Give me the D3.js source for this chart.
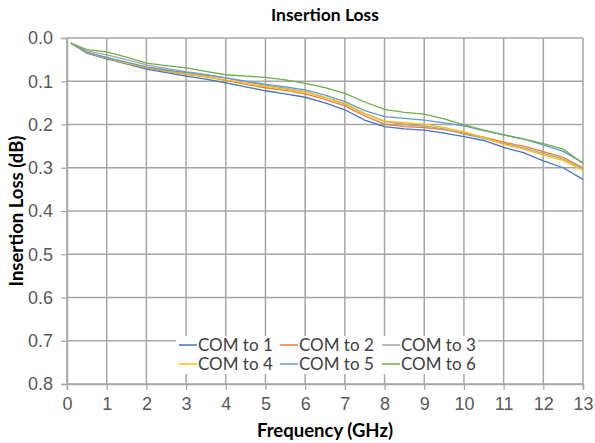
<!DOCTYPE HTML>
<html lang="en">
<head>
<meta charset="utf-8">
<title>Insertion Loss</title>
<style>
html, body { margin: 0; background: #fff; }
svg { display: block; font-family: Lato, "Noto Sans", sans-serif; }
.tick text { fill: #595959; font-size: 18px; }
</style>
</head>
<body>
<script src="https://cdnjs.cloudflare.com/ajax/libs/d3/7.8.5/d3.min.js"></script>
<script>
// frequency points (GHz)
const freq = [0.1, 0.5, 1, 1.5, 2, 2.5, 3, 3.5, 4, 4.5, 5, 5.5, 6, 6.5, 7, 7.5, 8, 8.5, 9, 9.5, 10, 10.5, 11, 11.5, 12, 12.5, 13];

// insertion loss per port (dB)
const com1 = [0.012, 0.035, 0.048, 0.060, 0.072, 0.080, 0.088, 0.095, 0.104, 0.113, 0.122, 0.129, 0.137, 0.150, 0.166, 0.190, 0.205, 0.210, 0.213, 0.220, 0.228, 0.237, 0.253, 0.265, 0.284, 0.300, 0.327];
const com2 = [0.012, 0.034, 0.046, 0.058, 0.069, 0.077, 0.084, 0.090, 0.098, 0.107, 0.115, 0.121, 0.129, 0.142, 0.157, 0.180, 0.199, 0.205, 0.207, 0.212, 0.220, 0.229, 0.241, 0.250, 0.263, 0.276, 0.300];
const com3 = [0.012, 0.030, 0.039, 0.050, 0.062, 0.070, 0.078, 0.084, 0.092, 0.101, 0.109, 0.116, 0.124, 0.137, 0.153, 0.175, 0.193, 0.200, 0.204, 0.210, 0.222, 0.232, 0.244, 0.254, 0.267, 0.280, 0.302];
const com4 = [0.012, 0.034, 0.046, 0.058, 0.068, 0.076, 0.083, 0.089, 0.097, 0.105, 0.112, 0.118, 0.125, 0.137, 0.151, 0.174, 0.192, 0.196, 0.199, 0.207, 0.217, 0.230, 0.246, 0.257, 0.270, 0.283, 0.306];
const com5 = [0.012, 0.033, 0.045, 0.056, 0.067, 0.074, 0.080, 0.086, 0.092, 0.100, 0.107, 0.113, 0.120, 0.132, 0.147, 0.168, 0.182, 0.186, 0.190, 0.196, 0.203, 0.214, 0.224, 0.234, 0.247, 0.262, 0.288];
const com6 = [0.012, 0.027, 0.032, 0.044, 0.058, 0.064, 0.069, 0.077, 0.085, 0.088, 0.091, 0.097, 0.105, 0.115, 0.128, 0.148, 0.165, 0.172, 0.176, 0.187, 0.201, 0.213, 0.224, 0.233, 0.244, 0.257, 0.290];

const names = ['COM to 1', 'COM to 2', 'COM to 3', 'COM to 4', 'COM to 5', 'COM to 6'];
const colors = ['#4472C4', '#ED7D31', '#A5A5A5', '#FFC000', '#5B9BD5', '#70AD47'];
const xTicks = d3.range(0, 14);
const yTicks = [0, 0.1, 0.2, 0.3, 0.4, 0.5, 0.6, 0.7, 0.8];

const width = 595, height = 443;
const margin = { top: 38, right: 12, bottom: 59, left: 67 };

const svg = d3.select('body').append('svg')
  .attr('width', width)
  .attr('height', height);

const x = d3.scaleLinear().domain([0, 13]).range([margin.left, width - margin.right]);
const y = d3.scaleLinear().domain([0, 0.8]).range([margin.top, height - margin.bottom]);

// grid
svg.append('g').selectAll('line').data(xTicks).join('line')
  .attr('x1', d => x(d)).attr('x2', d => x(d))
  .attr('y1', y(0)).attr('y2', y(0.8))
  .attr('stroke', '#a6a6a6').attr('stroke-width', 1.5);
svg.append('g').selectAll('line').data(yTicks).join('line')
  .attr('x1', x(0)).attr('x2', x(13))
  .attr('y1', d => y(d)).attr('y2', d => y(d))
  .attr('stroke', '#a6a6a6').attr('stroke-width', 1.5);

// axes
const xAxis = svg.append('g')
  .attr('transform', 'translate(0,' + y(0.8) + ')')
  .call(d3.axisBottom(x).tickValues(xTicks).tickSize(6).tickPadding(7).tickFormat(d3.format('d')));
const yAxis = svg.append('g')
  .attr('transform', 'translate(' + x(0) + ',0)')
  .call(d3.axisLeft(y).tickValues(yTicks).tickSize(6).tickPadding(8).tickFormat(d3.format('.1f')));
[xAxis, yAxis].forEach(a => {
  a.select('.domain').attr('stroke', '#a6a6a6').attr('stroke-width', 1.5);
  a.selectAll('.tick line').attr('stroke', '#a6a6a6').attr('stroke-width', 1.2);
});

// lines
const series = [com1, com2, com3, com4, com5, com6];
const line = d3.line().x(d => x(d[0])).y(d => y(d[1]));
svg.append('g').selectAll('path').data(series).join('path')
  .attr('d', s => line(freq.map((f, i) => [f, s[i]])))
  .attr('fill', 'none')
  .attr('stroke', (s, i) => colors[i])
  .attr('stroke-width', 1.3);

// legend
const legend = svg.append('g');
legend.append('rect')
  .attr('x', 176).attr('y', 336).attr('width', 302).attr('height', 38)
  .attr('fill', '#fff');
const item = legend.selectAll('g').data(names).join('g')
  .attr('transform', (d, i) => 'translate(' + [179, 280, 382][i % 3] + ',' + (i < 3 ? 345 : 364) + ')');
item.append('line')
  .attr('x1', 0).attr('x2', 18)
  .attr('stroke', (d, i) => colors[i]).attr('stroke-width', 1.5);
item.append('text')
  .attr('x', 19).attr('dy', '0.35em')
  .attr('fill', '#404040').attr('font-size', 17)
  .text(d => d);

// titles
svg.append('text')
  .attr('x', 325).attr('y', 21).attr('text-anchor', 'middle')
  .attr('font-size', 17.5).attr('font-weight', 'bold').attr('fill', '#000')
  .text('Insertion Loss');
svg.append('text')
  .attr('x', 325).attr('y', 437).attr('text-anchor', 'middle')
  .attr('font-size', 18.5).attr('font-weight', 'bold').attr('fill', '#000')
  .text('Frequency (GHz)');
svg.append('text')
  .attr('transform', 'translate(23,' + y(0.4) + ') rotate(-90)')
  .attr('text-anchor', 'middle')
  .attr('font-size', 18.5).attr('font-weight', 'bold').attr('fill', '#000')
  .text('Insertion Loss (dB)');
</script>
</body>
</html>
